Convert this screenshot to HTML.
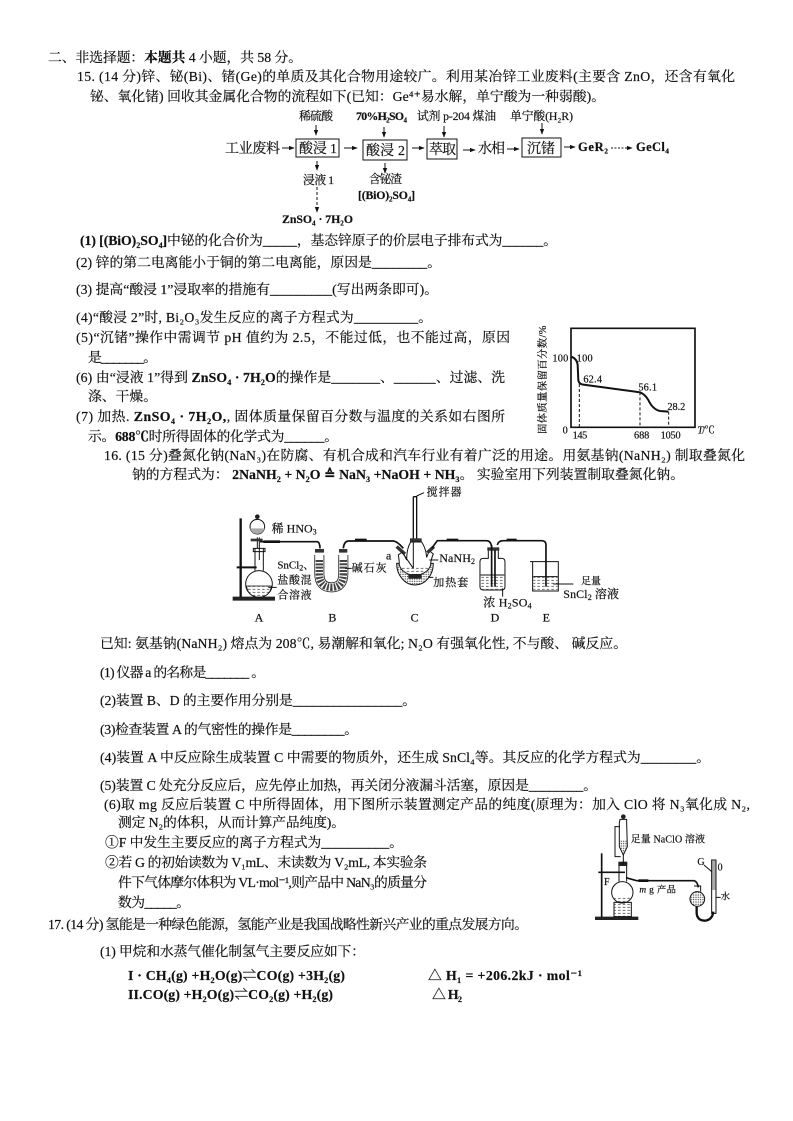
<!DOCTYPE html>
<html lang="zh"><head><meta charset="utf-8"><title>化学试题</title>
<style>
html,body{margin:0;padding:0;background:#fff}
svg{display:block}
text{font-family:"Liberation Serif","Noto Serif CJK SC","DejaVu Sans",serif;font-size:13.8px;fill:#111;stroke:#111;stroke-width:.18px}
.b{font-weight:bold}
.s{font-size:9px}
.f text{font-size:11.8px}
.f .m{font-size:14px}
.f .g{font-size:12.5px}
.ln{stroke:#111;fill:none;stroke-width:1}
.t3 text{font-size:36px;stroke-width:.6px}
.t3 .ln{stroke-width:3}
.t3 .th{stroke-width:5}
.t3 .s3{font-size:24px}
</style></head><body>
<svg width="793" height="1121" viewBox="0 0 793 1121" xmlns="http://www.w3.org/2000/svg">
<defs>
<marker id="a" viewBox="0 0 8 8" refX="7" refY="4" markerWidth="6" markerHeight="6" orient="auto"><path d="M0 1L8 4L0 7Z" fill="#111"/></marker>
<pattern id="h" width="14" height="9" patternUnits="userSpaceOnUse"><path d="M0 4H8" stroke="#555" stroke-width="2.5"/></pattern>
<pattern id="d" width="7" height="7" patternUnits="userSpaceOnUse"><circle cx="3" cy="3" r="2" fill="#444"/></pattern>
</defs>
<rect width="793" height="1121" fill="#fff"/>

<text x="48" y="62" textLength="254" lengthAdjust="spacing">二、非选择题：<tspan class="b">本题共</tspan> 4 小题，共 58 分。</text>
<text x="77" y="81" textLength="658" lengthAdjust="spacing">15. (14 分)锌、铋(Bi)、锗(Ge)的单质及其化合物用途较广。利用某冶锌工业废料(主要含 ZnO，还含有氧化</text>
<text x="90" y="101" textLength="515" lengthAdjust="spacing">铋、氧化锗) 回收其金属化合物的流程如下(已知：Ge⁴⁺易水解，单宁酸为一种弱酸)。</text>

<g class="f">
<text x="299" y="120" textLength="34" lengthAdjust="spacing">稀硫酸</text>
<text x="356" y="120" class="b" textLength="51" lengthAdjust="spacing">70%H₂SO₄</text>
<text x="417" y="120" textLength="79" lengthAdjust="spacing">试剂 p-204 煤油</text>
<text x="510" y="120" textLength="63" lengthAdjust="spacing">单宁酸(H₂R)</text>
<text class="m" x="225" y="153" textLength="55" lengthAdjust="spacing">工业废料</text>
<rect class="ln" x="296" y="139" width="43" height="18"/>
<text class="m" x="299" y="153" textLength="38" lengthAdjust="spacing">酸浸 1</text>
<rect class="ln" x="363" y="140" width="44" height="20"/>
<text class="m" x="366" y="155" textLength="39" lengthAdjust="spacing">酸浸 2</text>
<rect class="ln" x="427" y="139" width="30" height="20"/>
<text class="m" x="429" y="154" textLength="27" lengthAdjust="spacing">萃取</text>
<text class="m" x="478" y="153" textLength="27" lengthAdjust="spacing">水相</text>
<rect class="ln" x="522" y="138" width="39" height="19"/>
<text class="m" x="527" y="153" textLength="28" lengthAdjust="spacing">沉锗</text>
<text class="b g" x="578" y="151" textLength="30" lengthAdjust="spacing">GeR₂</text>
<text class="b g" x="636" y="151" textLength="33" lengthAdjust="spacing">GeCl₄</text>
<text x="303" y="184" textLength="31" lengthAdjust="spacing">浸液 1</text>
<text x="369" y="183" textLength="33" lengthAdjust="spacing">含铋渣</text>
<text x="358" y="199" class="b" textLength="57" lengthAdjust="spacing">[(BiO)₂SO₄]</text>
<text x="282" y="223" class="b" textLength="71" lengthAdjust="spacing">ZnSO₄ · 7H₂O</text>
<g class="ln">
<path d="M316 125V135" marker-end="url(#a)"/><path d="M384 127V137" marker-end="url(#a)"/><path d="M444 126V137" marker-end="url(#a)"/><path d="M542 123V134" marker-end="url(#a)"/>
<path d="M282 148H294" marker-end="url(#a)"/><path d="M344 148H357" marker-end="url(#a)"/><path d="M412 148H424" marker-end="url(#a)"/><path d="M463 150H475" marker-end="url(#a)"/><path d="M507 149H519" marker-end="url(#a)"/><path d="M564 147H575" marker-end="url(#a)"/>
<path d="M611 148H632" stroke-dasharray="2 1.5" marker-end="url(#a)"/>
<path d="M317 161V170" marker-end="url(#a)"/><path d="M385 163V173" marker-end="url(#a)"/>
<path d="M317 187V212" stroke-dasharray="3 2" marker-end="url(#a)"/>
</g>
</g>

<text x="80" y="245" textLength="477" lengthAdjust="spacing"><tspan class="b">(1) [(BiO)₂SO₄]</tspan>中铋的化合价为_____，基态锌原子的价层电子排布式为______。</text>
<text x="76" y="267" textLength="365" lengthAdjust="spacing">(2) 锌的第二电离能小于铜的第二电离能，原因是________。</text>
<text x="76" y="294" textLength="362" lengthAdjust="spacing">(3) 提高“酸浸 1”浸取率的措施有_________(写出两条即可)。</text>
<text x="76" y="322" textLength="356" lengthAdjust="spacing">(4)“酸浸 2”时, Bi₂O₃发生反应的离子方程式为_________。</text>
<text x="76" y="342" textLength="434" lengthAdjust="spacing">(5)“沉锗”操作中需调节 pH 值约为 2.5，不能过低，也不能过高，原因</text>
<text x="88" y="362" textLength="69" lengthAdjust="spacing">是_______。</text>
<text x="76" y="382" textLength="429" lengthAdjust="spacing">(6) 由“浸液 1”得到 <tspan class="b">ZnSO₄ · 7H₂O</tspan>的操作是_______、______、过滤、洗</text>
<text x="88" y="401" textLength="69" lengthAdjust="spacing">涤、干燥。</text>
<text x="76" y="421" textLength="429" lengthAdjust="spacing">(7) 加热. <tspan class="b">ZnSO₄ · 7H₂O,</tspan>, 固体质量保留百分数与温度的关系如右图所</text>
<text x="88" y="441" textLength="250" lengthAdjust="spacing">示。<tspan class="b">688℃</tspan>时所得固体的化学式为______。</text>
<text x="104" y="460" textLength="641" lengthAdjust="spacing">16. (15 分)叠氮化钠(NaN₃)在防腐、有机合成和汽车行业有着广泛的用途。用氨基钠(NaNH₂) 制取叠氮化</text>
<text x="132" y="479" textLength="552" lengthAdjust="spacing">钠的方程式为： <tspan class="b">2NaNH₂ + N₂O ≙ NaN₃ +NaOH + NH₃</tspan>。 实验室用下列装置制取叠氮化钠。</text>

<!-- chart -->
<g transform="translate(520 310) scale(.3333)" class="t3">
<path class="ln th" d="M153 55H525V352H153Z" style="stroke-width:5"/>
<path class="ln th" d="M155 140Q172 148 173 165L175 210Q176 222 190 224L360 247Q375 253 385 270Q398 298 420 303L445 305" style="stroke-width:6"/>
<path class="ln" stroke-dasharray="9 6" d="M178 222V352M360 247V352M446 305V352"/>
<text x="97" y="154" textLength="48" lengthAdjust="spacing" style="font-size:31px">100</text>
<text x="170" y="154" textLength="48" lengthAdjust="spacing" style="font-size:31px">100</text>
<text x="190" y="217" textLength="56" lengthAdjust="spacing" style="font-size:31px">62.4</text>
<text x="355" y="242" textLength="56" lengthAdjust="spacing" style="font-size:31px">56.1</text>
<text x="442" y="300" textLength="54" lengthAdjust="spacing" style="font-size:31px">28.2</text>
<text x="128" y="370" style="font-size:31px">0</text>
<text x="158" y="385" textLength="44" lengthAdjust="spacing" style="font-size:31px">145</text>
<text x="342" y="385" textLength="46" lengthAdjust="spacing" style="font-size:31px">688</text>
<text x="422" y="385" textLength="60" lengthAdjust="spacing" style="font-size:31px">1050</text>
<text x="532" y="370" textLength="52" lengthAdjust="spacing" style="font-size:31px"><tspan font-style="italic">T</tspan>/℃</text>
<text transform="translate(78 372) rotate(-90)" textLength="325" lengthAdjust="spacing" style="font-size:31px">固体质量保留百分数/%</text>
</g>

<!-- apparatus -->
<g transform="translate(220 480) scale(.3333)" class="t3">
<!-- A -->
<path class="ln th" d="M62 115V352" style="stroke-width:7"/>
<path d="M38 350H165V362H38Z" fill="#222"/>
<path class="ln th" d="M50 262H110" style="stroke-width:6"/>
<circle class="ln" cx="117" cy="312" r="40"/>
<path d="M80 318H154Q150 350 117 352Q84 350 80 318Z" fill="url(#h)" stroke="#111" stroke-width="2"/>
<path class="ln" d="M105 272V205H130V272M100 205H135V215H100Z"/>
<path class="ln" d="M112 172V205M118 172V240"/>
<circle class="ln" cx="112" cy="140" r="22"/>
<circle cx="112" cy="110" r="7" fill="#222"/>
<path d="M90 145H134Q128 162 112 162Q96 162 90 145Z" fill="#aaa"/>
<path d="M92 176H128V184H92Z" fill="#333"/>
<path class="ln" d="M120 185H292Q300 187 300 205" style="stroke-width:5"/>
<path class="ln th" d="M130 185H180" style="stroke-width:8"/>
<!-- B -->
<path d="M298 225V280Q298 322 335 322Q370 322 370 280V225" fill="none" stroke="#222" stroke-width="30"/>
<path d="M298 212V280Q298 322 335 322Q370 322 370 280V212" fill="none" stroke="#fff" stroke-width="25"/>
<path d="M298 240V280Q298 322 335 322Q370 322 370 280V240" fill="none" stroke="#444" stroke-width="22" stroke-dasharray="6 4"/>
<path d="M285 207H312V218H285ZM357 207H382V218H357Z" fill="#333"/>
<path class="ln" d="M370 205Q372 184 385 183H520Q532 184 550 205" style="stroke-width:5"/>
<path class="ln th" d="M405 180H440" style="stroke-width:8"/>
<!-- C -->
<path class="ln" d="M580 50H590V180M580 50V180" style="stroke-width:4"/>
<path d="M590 48L612 38" class="ln"/>
<path d="M570 175H605V186H570Z" fill="#333"/>
<path d="M530 250H640A55 65 0 0 1 530 250Z" fill="url(#d)" stroke="#111" stroke-width="3"/>
<path d="M548 215L560 240Q560 205 572 186H605Q618 205 620 232L628 212L640 222Q632 240 632 255A48 38 0 0 1 538 255Q538 240 535 225Z" fill="#fff" stroke="#111" stroke-width="3"/>
<path d="M540 262H630Q620 290 585 292Q550 290 540 262Z" fill="url(#h)"/>
<path d="M565 282H605V296H565Z" fill="#222"/>
<path d="M530 200L555 222M622 218L642 200" stroke="#333" stroke-width="10"/>
<path class="ln" d="M545 215L580 265M580 186V265"/>
<path class="ln" d="M635 205L652 182H800Q812 182 815 200" style="stroke-width:5"/>
<path class="ln th" d="M680 180H715" style="stroke-width:8"/>
<!-- D -->
<path class="ln" d="M805 235V208H835V235H845Q855 235 855 245V320Q855 330 845 330H790Q780 330 780 320V245Q780 235 790 235Z"/>
<path d="M782 285H853V328H782Z" fill="url(#h)"/>
<path class="ln" d="M782 285H853"/>
<path d="M802 202H838V212H802Z" fill="#333"/>
<path class="ln" d="M815 195V320M825 210V320M832 195Q835 182 850 182H965Q978 182 978 195V320" style="stroke-width:5"/>
<path class="ln th" d="M860 180H890" style="stroke-width:8"/>
<!-- E -->
<path class="ln" d="M930 245H1015V333H938V245"/>
<path d="M940 290H1013V331H940Z" fill="url(#h)"/>
<path class="ln" d="M940 290H1013"/>
<path class="ln" d="M1000 312H1060"/>
<path class="ln" d="M145 322H170M375 265H395M628 240H655M625 292H640M848 325V350"/>
<text x="155" y="158" textLength="135" lengthAdjust="spacing">稀 HNO<tspan class="s3" dy="6">3</tspan></text>
<text x="172" y="266" style="font-size:33px">SnCl<tspan class="s3" dy="6">2</tspan><tspan dy="-6">、</tspan></text>
<text x="172" y="310" textLength="103" lengthAdjust="spacing" style="font-size:33px">盐酸混</text>
<text x="172" y="356" textLength="103" lengthAdjust="spacing" style="font-size:33px">合溶液</text>
<text x="620" y="47" textLength="105" lengthAdjust="spacing" style="font-size:33px">搅拌器</text>
<text x="395" y="274" textLength="105" lengthAdjust="spacing" style="font-size:33px">碱石灰</text>
<text x="498" y="238">a</text>
<text x="658" y="246" textLength="107" lengthAdjust="spacing">NaNH<tspan class="s3" dy="6">2</tspan></text>
<text x="640" y="318" textLength="105" lengthAdjust="spacing" style="font-size:33px">加热套</text>
<text x="790" y="379" textLength="145" lengthAdjust="spacing">浓 H<tspan class="s3" dy="6">2</tspan><tspan dy="-6">SO</tspan><tspan class="s3" dy="6">4</tspan></text>
<text x="1083" y="314" textLength="60" lengthAdjust="spacing" style="font-size:30px">足量</text>
<text x="1030" y="354" textLength="167" lengthAdjust="spacing">SnCl<tspan class="s3" dy="6">2</tspan><tspan dy="-6"> 溶液</tspan></text>
<text x="104" y="425">A</text><text x="325" y="425">B</text><text x="572" y="425">C</text><text x="812" y="425">D</text><text x="968" y="425">E</text>
</g>

<text x="100" y="648" textLength="527" lengthAdjust="spacing">已知: 氨基钠(NaNH₂) 熔点为 208℃, 易潮解和氧化; N₂O 有强氧化性, 不与酸、 碱反应。</text>
<text x="100" y="677" textLength="165" lengthAdjust="spacing">(1) 仪器 a 的名称是_______ 。</text>
<text x="100" y="705" textLength="316" lengthAdjust="spacing">(2)装置 B、D 的主要作用分别是________________。</text>
<text x="100" y="734" textLength="258" lengthAdjust="spacing">(3)检查装置 A 的气密性的操作是________。</text>
<text x="100" y="762" textLength="610" lengthAdjust="spacing">(4)装置 A 中反应除生成装置 C 中需要的物质外，还生成 SnCl₄等。其反应的化学方程式为________。</text>
<text x="100" y="790" textLength="497" lengthAdjust="spacing">(5)装置 C 处充分反应后，应先停止加热，再关闭分液漏斗活塞，原因是________。</text>
<text x="104" y="809" textLength="646" lengthAdjust="spacing">(6)取 mg 反应后装置 C 中所得固体，用下图所示装置测定产品的纯度(原理为：加入 ClO 将 N₃氧化成 N₂,</text>
<text x="118" y="827" textLength="227" lengthAdjust="spacing">测定 N₂的体积，从而计算产品纯度)。</text>
<text x="105" y="847" textLength="298" lengthAdjust="spacing">①F 中发生主要反应的离子方程式为__________。</text>
<text x="105" y="867" textLength="322" lengthAdjust="spacing">②若 G 的初始读数为 V₁mL、末读数为 V₂mL, 本实验条</text>
<text x="118" y="887" textLength="309" lengthAdjust="spacing">件下气体摩尔体积为 VL·mol⁻¹,则产品中 NaN₃的质量分</text>
<text x="118" y="907" textLength="72" lengthAdjust="spacing">数为_____。</text>
<text x="48" y="929" textLength="480" lengthAdjust="spacing">17. (14 分) 氢能是一种绿色能源，氢能产业是我国战略性新兴产业的重点发展方向。</text>
<text x="100" y="956" textLength="265" lengthAdjust="spacing">(1) 甲烷和水蒸气催化制氢气主要反应如下：</text>
<text x="128" y="980" class="b" textLength="217" lengthAdjust="spacing">I · CH₄(g) +H₂O(g)⇌CO(g) +3H₂(g)</text>
<text x="428" y="980" class="b" textLength="154" lengthAdjust="spacing">△ H₁ = +206.2kJ · mol⁻¹</text>
<text x="128" y="999" class="b" textLength="205" lengthAdjust="spacing">II.CO(g) +H₂O(g)⇌CO₂(g) +H₂(g)</text>
<text x="432" y="999" class="b" textLength="30" lengthAdjust="spacing">△ H₂</text>

<!-- second apparatus -->
<g transform="translate(590 810) scale(.3333)" class="t3">
<path class="ln th" d="M35 130V322"/>
<path d="M15 320H145V330H15Z" fill="#222"/>
<path class="ln th" d="M25 187H105"/>
<circle cx="100" cy="20" r="7" fill="#222"/>
<path class="ln" d="M90 28H110V40L112 110L100 135L88 110V40Z"/>
<path d="M90 90H110V112L100 130L90 112Z" fill="url(#d)"/>
<path class="ln" d="M90 50H75V140H92"/>
<path d="M85 155H112V168H85Z" fill="#222"/>
<path class="ln" d="M100 135V165M87 168V215M110 168V215"/>
<circle class="ln" cx="97" cy="247" r="32" style="fill:#fff"/>
<path d="M68 262H126Q118 278 97 279Q76 278 68 262Z" fill="url(#h)"/>
<path d="M72 277H124V320H72Z" fill="url(#h)" stroke="#111" stroke-width="3"/>
<path class="ln" d="M108 203L140 212H312Q322 214 325 232" style="stroke-width:5"/>
<path class="ln th" d="M145 212H175" style="stroke-width:8"/>
<path class="ln" d="M312 228H332V245"/>
<circle cx="322" cy="267" r="22" fill="url(#d)" stroke="#111" stroke-width="3"/>
<path class="ln" d="M320 290V310Q322 332 345 332Q367 330 370 305" style="stroke-width:7"/>
<path class="ln" d="M365 150H378V310H365Z"/>
<path d="M366 150H377V240H366Z" fill="#555" opacity=".5"/>
<path class="ln" d="M342 165L365 185M378 262H392"/>
<text x="122" y="98" textLength="223" lengthAdjust="spacing" style="font-size:30px">足量 NaClO 溶液</text>
<text x="322" y="165" style="font-size:30px">G</text>
<text x="383" y="182" style="font-size:30px">0</text>
<text x="392" y="268" style="font-size:28px">水</text>
<text x="42" y="225" style="font-size:30px">F</text>
<text x="148" y="247" textLength="110" lengthAdjust="spacing" style="font-size:28px"><tspan font-style="italic">m</tspan> g 产品</text>
</g>
</svg>
</body></html>
